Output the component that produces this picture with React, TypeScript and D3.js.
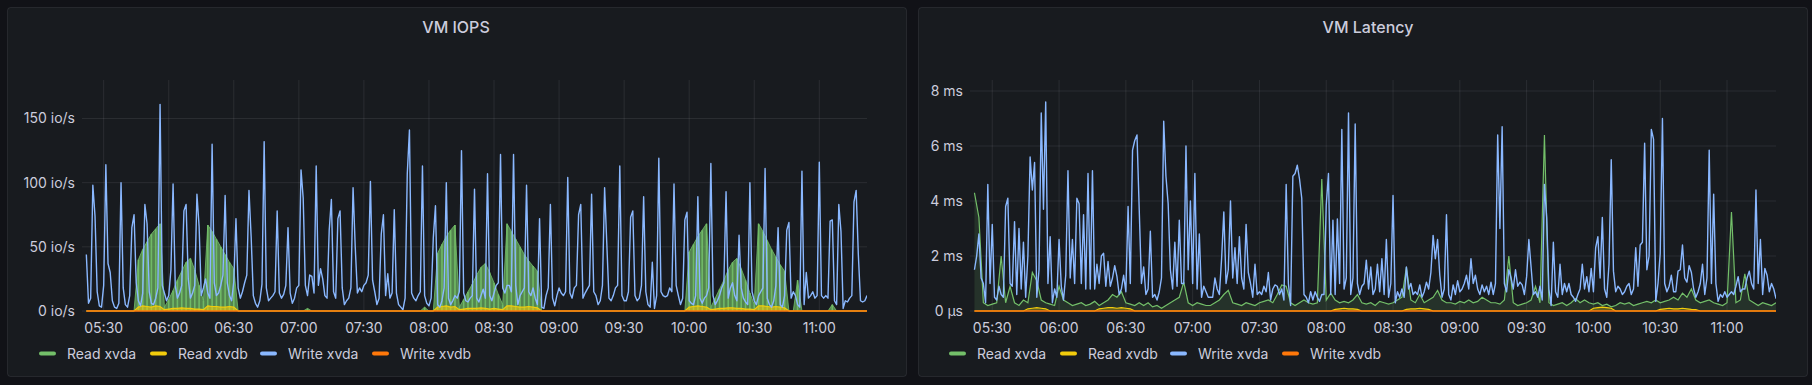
import React from 'react';
import * as d3 from 'd3';

// Two Grafana panels, 6h window. Samples start 05:22, axis runs 05:20 -> 11:22.
const at = (h: number, m: number) => new Date(2024, 0, 15, h, m);
const FIRST_SAMPLE = at(5, 22);
const AXIS_START = at(5, 20);
const AXIS_END = at(11, 22);

const legendNames = ['Read xvda', 'Read xvdb', 'Write xvda', 'Write xvdb'];
const seriesColors = ['#73BF69', '#F2CC0C', '#8AB8FF', '#FF780A'];

// ---- VM IOPS (io/s) ----
// Read xvda, one sample every 2 min
const iopsReadXvda = [
  0, 0, 0, 0, 0, 0, 0, 0, 0, 0, 0, 0, 40, 48, 54, 60, 64, 68, 3, 9,
  16, 24, 31, 38, 41, 32, 20, 8, 67, 62, 56, 50, 44, 38, 33, 0, 0, 0, 0, 0,
  0, 0, 0, 0, 0, 0, 0, 0, 0, 0, 0, 2, 0, 0, 0, 0, 0, 0, 0, 0,
  0, 0, 0, 0, 0, 0, 0, 0, 0, 0, 0, 0, 0, 0, 0, 0, 0, 0, 3, 0,
  0, 45, 52, 58, 63, 67, 3, 9, 15, 21, 28, 34, 37, 30, 22, 13, 5, 68, 62, 56,
  50, 44, 39, 35, 31, 0, 0, 0, 0, 0, 0, 0, 0, 0, 0, 0, 0, 0, 0, 0,
  0, 0, 0, 0, 0, 0, 0, 0, 0, 0, 0, 0, 0, 0, 0, 0, 0, 0, 0, 46,
  52, 58, 63, 68, 3, 10, 17, 24, 32, 38, 41, 33, 24, 14, 5, 68, 62, 55, 48, 42,
  36, 31, 0, 0, 24, 0, 0, 0, 0, 0, 0, 0, 5, 0, 0, 0, 0, 0, 0, 0, 0,
];
// Read xvdb, every 2 min
const iopsReadXvdb = [
  0, 0, 0, 0, 0, 0, 0, 0, 0, 0, 0, 0, 3, 4, 3.5, 3, 4, 3.5, 1, 1.5,
  2, 2, 2.5, 2, 2, 1.5, 1.5, 1, 4, 3.5, 3.5, 3, 3, 3.5, 3, 0, 0, 0, 0, 0,
  0, 0, 0, 0, 0, 0, 0, 0, 0, 0, 0, 0, 0, 0, 0, 0, 0, 0, 0, 0,
  0, 0, 0, 0, 0, 0, 0, 0, 0, 0, 0, 0, 0, 0, 0, 0, 0, 0, 0, 0,
  0, 3, 3.5, 4, 3, 3.5, 1, 1.5, 2, 2, 2, 2.5, 2, 1.5, 2, 1.5, 1, 4, 4, 3.5,
  3, 3, 3.5, 3, 2.5, 0, 0, 0, 0, 0, 0, 0, 0, 0, 0, 0, 0, 0, 0, 0,
  0, 0, 0, 0, 0, 0, 0, 0, 0, 0, 0, 0, 0, 0, 0, 0, 0, 0, 0, 3,
  3.5, 4, 3.5, 3, 1, 1.5, 2, 2, 2.5, 2.5, 2, 2, 1.5, 1.5, 1, 4, 4, 3.5, 3, 3.5,
  3, 2.5, 0, 0, 0, 0, 0, 0, 0, 0, 0, 0, 0, 0, 0, 0, 0, 0, 0, 0, 0,
];
// Write xvda, every minute
const iopsWriteXvda = [
  44, 6, 10, 98, 74, 15, 4, 3, 20, 114, 37, 30, 8, 3, 2, 6, 100, 18, 5, 3,
  12, 65, 75, 22, 8, 4, 14, 83, 68, 15, 6, 5, 10, 18, 161, 20, 14, 8, 12, 32,
  99, 20, 10, 14, 20, 78, 83, 25, 10, 14, 20, 91, 66, 12, 18, 25, 14, 10, 130, 22,
  12, 14, 20, 28, 90, 22, 12, 8, 23, 72, 18, 10, 15, 22, 28, 94, 58, 12, 6, 3,
  8, 21, 132, 18, 8, 10, 12, 15, 78, 14, 10, 13, 20, 65, 14, 6, 10, 18, 20, 110,
  88, 20, 12, 28, 27, 14, 113, 20, 33, 25, 12, 10, 63, 87, 15, 10, 72, 78, 18, 5,
  8, 10, 18, 96, 50, 14, 18, 15, 20, 22, 28, 101, 24, 15, 5, 10, 60, 75, 12, 29,
  10, 14, 79, 14, 5, 3, 1, 10, 107, 141, 14, 10, 8, 12, 15, 113, 12, 6, 4, 10,
  57, 82, 5, 3, 8, 18, 100, 10, 5, 8, 12, 10, 15, 125, 14, 8, 7, 10, 12, 95,
  10, 7, 12, 17, 10, 107, 12, 8, 14, 20, 22, 122, 18, 14, 20, 20, 15, 122, 20, 5,
  12, 15, 18, 98, 15, 12, 18, 10, 5, 72, 3, 2, 12, 18, 83, 10, 4, 12, 18, 14,
  12, 15, 104, 14, 10, 18, 20, 75, 83, 10, 14, 17, 20, 91, 15, 12, 5, 8, 20, 96,
  53, 10, 8, 12, 18, 20, 113, 12, 8, 8, 15, 73, 78, 12, 8, 10, 20, 89, 15, 5,
  3, 38, 2, 12, 119, 15, 12, 11, 12, 18, 15, 99, 20, 12, 5, 10, 71, 77, 8, 6,
  5, 12, 89, 10, 6, 10, 12, 18, 115, 12, 5, 8, 12, 18, 22, 93, 10, 18, 22, 12,
  8, 59, 18, 10, 7, 5, 100, 15, 8, 5, 12, 15, 18, 111, 10, 5, 3, 8, 20, 65,
  5, 3, 12, 63, 69, 10, 15, 12, 5, 3, 109, 5, 30, 10, 12, 15, 10, 12, 116, 12,
  10, 12, 10, 70, 71, 8, 5, 83, 62, 2, 8, 7, 10, 12, 85, 94, 44, 8, 7, 8, 12,
];
// Write xvdb, flat zero (hourly)
const iopsWriteXvdb = [0, 0, 0, 0, 0, 0, 0];
const iopsTicks = [0, 50, 100, 150];

// ---- VM Latency (ms) ----
// Read xvda, every 2 min
const latReadXvda = [
  4.3, 3.4, 0.3, 0.2, 0.25, 0.3, 2.0, 0.3, 0.9, 0.3, 0.2, 0.4, 0.3, 1.4, 1.1, 0.4, 0.3, 0.25, 0.2, 0.9,
  0.4, 0.3, 0.2, 0.25, 0.3, 0.2, 0.25, 0.35, 0.2, 0.3, 0.4, 0.6, 0.5, 0.7, 0.3, 0.25, 0.2, 0.3, 0.2, 0.3,
  0.15, 0.2, 0.1, 0.2, 0.3, 0.4, 0.5, 1.05, 0.3, 0.2, 0.3, 0.25, 0.2, 0.2, 0.3, 0.4, 0.6, 0.75, 0.3, 0.25,
  0.2, 0.3, 0.25, 0.2, 0.3, 0.35, 0.4, 0.3, 0.6, 0.95, 0.9, 0.3, 0.2, 0.3, 0.4, 0.3, 0.25, 0.3, 4.8, 0.4,
  0.65, 0.4, 0.3, 0.35, 0.3, 0.4, 0.6, 0.3, 0.25, 0.3, 0.2, 0.35, 0.3, 0.25, 0.3, 0.4, 0.5, 1.6, 0.4, 0.3,
  0.6, 0.3, 0.4, 0.5, 0.75, 0.4, 0.3, 0.3, 0.25, 0.35, 0.3, 0.4, 0.3, 0.35, 0.5, 0.4, 0.3, 0.3, 0.25, 0.4,
  2.0, 0.3, 0.2, 0.25, 0.3, 0.4, 0.9, 0.3, 6.4, 0.3, 0.2, 0.25, 0.3, 0.2, 0.3, 0.45, 0.3, 0.4, 0.3, 0.25,
  0.3, 0.2, 0.25, 0.15, 0.2, 0.3, 0.25, 0.3, 0.2, 0.25, 0.3, 0.35, 0.3, 0.4, 0.3, 0.35, 0.4, 0.5, 0.4, 0.65,
  0.5, 0.8, 0.4, 0.3, 0.35, 0.4, 0.3, 0.25, 0.2, 0.3, 3.6, 0.3, 0.4, 1.35, 0.4, 0.3, 0.2, 0.3, 0.25, 0.2, 0.3,
];
// Read xvdb, every 2 min
const latReadXvdb = [
  0, 0, 0, 0, 0, 0, 0, 0, 0, 0, 0, 0, 0.08, 0.1, 0.12, 0.1, 0.08, 0, 0, 0,
  0, 0, 0, 0, 0, 0, 0, 0, 0.08, 0.1, 0.12, 0.12, 0.1, 0.12, 0.1, 0.08, 0, 0, 0, 0,
  0, 0, 0, 0, 0, 0, 0, 0, 0, 0, 0, 0, 0, 0, 0, 0, 0, 0, 0, 0,
  0, 0, 0, 0, 0, 0, 0, 0, 0, 0, 0, 0, 0, 0, 0, 0, 0, 0, 0, 0,
  0, 0.06, 0.08, 0.1, 0.08, 0.08, 0.06, 0, 0, 0, 0, 0, 0, 0, 0, 0, 0, 0.06, 0.08, 0.08,
  0.1, 0.08, 0.06, 0, 0, 0, 0, 0, 0, 0, 0, 0, 0, 0, 0, 0, 0, 0, 0, 0,
  0, 0, 0, 0, 0, 0, 0, 0, 0, 0, 0, 0, 0, 0, 0, 0, 0, 0, 0, 0.1,
  0.12, 0.14, 0.12, 0.1, 0, 0, 0, 0, 0, 0, 0, 0, 0, 0, 0.06, 0.08, 0.1, 0.08, 0.08, 0.1,
  0.08, 0.06, 0.05, 0, 0, 0, 0, 0, 0, 0, 0, 0, 0, 0, 0, 0, 0, 0, 0, 0, 0,
];
// Write xvda, every minute
const latWriteXvda = [
  1.5, 2.0, 2.8, 1.2, 1.0, 0.3, 4.6, 1.0, 3.15, 0.5, 0.4, 0.9, 0.6, 0.5, 3.8, 4.1, 1.0, 0.9, 3.25, 0.6,
  3.0, 0.8, 2.5, 0.5, 2.0, 5.6, 4.4, 5.4, 0.5, 1.5, 7.2, 3.7, 7.6, 1.0, 2.7, 0.3, 0.8, 0.5, 2.6, 0.9,
  0.4, 1.3, 5.1, 1.2, 2.6, 1.0, 4.1, 3.9, 1.0, 3.5, 0.8, 5.0, 0.8, 5.1, 0.8, 1.7, 1.0, 2.0, 2.1, 0.9,
  1.8, 0.9, 1.2, 1.65, 1.25, 0.6, 0.8, 1.3, 0.7, 3.8, 1.0, 5.85, 6.2, 6.4, 3.7, 1.0, 1.6, 0.6, 0.8, 2.9,
  0.5, 0.6, 0.4, 0.7, 1.2, 6.9, 4.9, 3.9, 1.5, 0.8, 2.5, 0.9, 3.3, 1.0, 1.0, 6.0, 1.5, 4.0, 1.0, 5.0,
  0.8, 2.8, 0.5, 0.9, 0.7, 0.5, 0.5, 0.5, 1.2, 0.8, 0.6, 1.9, 3.6, 1.0, 1.5, 4.0, 1.2, 2.3, 1.0, 2.7,
  1.2, 0.8, 3.15, 1.4, 1.0, 0.5, 1.7, 0.6, 0.7, 0.6, 0.9, 0.7, 1.4, 0.4, 0.8, 0.95, 0.9, 0.6, 0.8, 0.4,
  4.6, 1.0, 0.2, 4.9, 5.0, 5.3, 4.8, 4.1, 0.6, 0.5, 0.3, 0.7, 0.4, 0.7, 0.5, 0.35, 0.6, 0.6, 3.85, 5.0,
  0.6, 3.3, 0.6, 3.35, 1.0, 6.6, 0.8, 1.2, 7.2, 0.6, 1.2, 6.8, 1.0, 0.6, 0.9, 1.0, 1.85, 0.8, 1.6, 0.6,
  0.8, 1.7, 0.7, 1.9, 0.6, 2.6, 0.5, 1.0, 4.2, 0.3, 0.7, 0.5, 0.8, 0.5, 1.6, 0.8, 1.0, 0.6, 0.7, 0.6,
  0.95, 0.5, 0.7, 1.05, 0.8, 1.4, 2.75, 1.9, 2.6, 1.3, 0.5, 0.8, 3.5, 0.6, 0.4, 0.95, 0.6, 1.1, 0.7, 0.8,
  1.0, 1.3, 0.8, 1.9, 1.0, 1.3, 0.8, 0.6, 0.95, 0.7, 0.9, 0.6, 1.05, 0.6, 1.0, 6.4, 3.0, 6.7, 1.0, 0.7,
  1.5, 1.2, 0.8, 1.5, 0.9, 1.05, 0.95, 0.6, 1.25, 2.6, 1.6, 0.6, 0.7, 0.5, 0.9, 0.4, 4.6, 3.4, 0.8, 0.2,
  2.5, 0.7, 0.5, 1.7, 0.6, 1.0, 0.7, 1.0, 0.6, 0.5, 0.35, 0.6, 0.8, 1.7, 0.8, 1.25, 0.7, 1.55, 0.7, 2.3,
  2.7, 1.2, 3.4, 0.8, 0.5, 1.7, 5.5, 1.45, 0.7, 0.9, 0.8, 0.6, 0.7, 0.9, 1.0, 0.6, 0.8, 2.3, 0.9, 2.4,
  2.5, 6.1, 1.5, 2.0, 6.6, 6.25, 0.35, 1.0, 2.1, 7.0, 1.0, 0.7, 0.9, 1.3, 0.7, 0.7, 1.45, 1.5, 2.4, 1.2,
  1.05, 1.65, 1.4, 0.8, 0.5, 0.7, 1.0, 1.7, 0.6, 1.2, 5.85, 1.0, 4.25, 1.0, 0.35, 0.6, 0.5, 0.7, 0.5, 0.6,
  0.7, 0.6, 0.9, 1.25, 0.7, 0.8, 0.8, 1.2, 1.45, 1.0, 0.8, 4.4, 1.0, 2.6, 0.6, 1.55, 1.3, 0.7, 1.0, 0.8, 0.45,
];
// Write xvdb, flat zero (hourly)
const latWriteXvdb = [0, 0, 0, 0, 0, 0, 0];
const latTicks = [0, 2, 4, 6, 8];

type Pt = { t: Date; v: number };
type Kind = 'stripes' | 'area' | 'line';
type Series = { values: number[]; step: number; kind: Kind; fill?: number };

const toPoints = (values: number[], step: number): Pt[] =>
  values.map((v, k) => ({ t: d3.timeMinute.offset(FIRST_SAMPLE, k * step), v }));

const TEXT = '#ccccdc';
const GRID = 'rgba(204,204,220,0.1)';
const FONT = 'Inter, Roboto, "Noto Sans", sans-serif';
const legendOffsets = [0, 111, 221, 333];

type PanelProps = {
  id: string;
  box: { x: number; y: number; w: number; h: number };
  plot: { left: number; right: number; top: number; bottom: number };
  title: string;
  titleX: number;
  legendX: number;
  yMax: number;
  ticks: number[];
  fmt: (v: number) => string;
  series: Series[];
};

function Panel(p: PanelProps) {
  const x = d3.scaleTime().domain([AXIS_START, AXIS_END]).range([p.plot.left, p.plot.right]);
  const y = d3.scaleLinear().domain([0, p.yMax]).range([p.plot.bottom, p.plot.top]);
  const xTicks = x.ticks(d3.timeMinute.every(30) as d3.TimeInterval);
  const fmtTime = d3.timeFormat('%H:%M');
  const line = d3.line<Pt>().x(d => x(d.t)).y(d => y(d.v));
  const area = d3.area<Pt>().x(d => x(d.t)).y0(y(0)).y1(d => y(d.v));

  return (
    <g>
      <rect x={p.box.x + 0.5} y={p.box.y + 0.5} width={p.box.w} height={p.box.h} rx={3}
        fill="#181b1f" stroke="rgba(204,204,220,0.1)" />
      <text x={p.titleX} y={33} textAnchor="middle" fill={TEXT} fontSize={16} fontWeight={500}>{p.title}</text>

      <defs>
        <clipPath id={`clip-${p.id}`}>
          <rect x={p.plot.left} y={p.plot.top - 2} width={p.plot.right - p.plot.left} height={p.plot.bottom - p.plot.top + 4} />
        </clipPath>
      </defs>

      {/* grid */}
      {xTicks.map(t => (
        <line key={+t} x1={x(t)} x2={x(t)} y1={p.plot.top} y2={p.plot.bottom} stroke={GRID} />
      ))}
      {p.ticks.map(v => (
        <line key={v} x1={p.plot.left} x2={p.plot.right} y1={y(v)} y2={y(v)} stroke={GRID} />
      ))}

      <g clipPath={`url(#clip-${p.id})`}>
        {p.series.map((s, si) => {
          const pts = toPoints(s.values, s.step);
          const color = seriesColors[si];
          if (s.kind === 'stripes') {
            return (
              <g key={si}>
                <path d={area(pts) || ''} fill={color} fillOpacity={s.fill ?? 0.6} />
                {pts.filter(d => d.v > 0).map((d, k) => (
                  <line key={k} x1={x(d.t)} x2={x(d.t)} y1={y(0)} y2={y(d.v)} stroke={color} strokeWidth={1.6} strokeOpacity={0.9} />
                ))}
                <path d={line(pts) || ''} fill="none" stroke={color} strokeWidth={1} strokeOpacity={0.8} />
              </g>
            );
          }
          if (s.kind === 'area') {
            return (
              <g key={si}>
                <path d={area(pts) || ''} fill={color} fillOpacity={s.fill ?? 0.45} />
                <path d={line(pts) || ''} fill="none" stroke={color} strokeWidth={1.2} />
              </g>
            );
          }
          return (
            <path key={si} d={line(pts) || ''} fill="none" stroke={color}
              strokeWidth={si === 3 ? 1.6 : 1.4} strokeLinejoin="round" />
          );
        })}
      </g>

      {/* axes labels */}
      {p.ticks.map(v => (
        <text key={v} x={p.plot.left - 7} y={y(v)} dy="0.35em" textAnchor="end" fill={TEXT} fontSize={14}>
          {p.fmt(v)}
        </text>
      ))}
      {xTicks.map(t => (
        <text key={+t} x={x(t)} y={333} textAnchor="middle" fill={TEXT} fontSize={14}>{fmtTime(t)}</text>
      ))}

      {/* legend */}
      {legendNames.map((name, i) => (
        <g key={name} transform={`translate(${p.legendX + legendOffsets[i]},0)`}>
          <rect x={0} y={351.5} width={17} height={4} rx={2} fill={seriesColors[i]} />
          <text x={28} y={358.5} fill={TEXT} fontSize={14}>{name}</text>
        </g>
      ))}
    </g>
  );
}

export default function App() {
  const iopsSeries: Series[] = [
    { values: iopsReadXvda, step: 2, kind: 'stripes', fill: 0.65 },
    { values: iopsReadXvdb, step: 2, kind: 'area', fill: 0.6 },
    { values: iopsWriteXvda, step: 1, kind: 'line' },
    { values: iopsWriteXvdb, step: 60, kind: 'line' },
  ];
  const latSeries: Series[] = [
    { values: latReadXvda, step: 2, kind: 'area', fill: 0.15 },
    { values: latReadXvdb, step: 2, kind: 'area', fill: 0.3 },
    { values: latWriteXvda, step: 1, kind: 'line' },
    { values: latWriteXvdb, step: 60, kind: 'line' },
  ];

  return (
    <svg width={1812} height={385} fontFamily={FONT}
      style={{ position: 'absolute', left: 0, top: 0, display: 'block' }}>
      <rect width={1812} height={385} fill="#111217" />
      <Panel id="iops" box={{ x: 7, y: 7, w: 899, h: 369 }}
        plot={{ left: 82, right: 867, top: 80, bottom: 311 }}
        title="VM IOPS" titleX={456} legendX={39}
        yMax={180} ticks={iopsTicks} fmt={v => `${v} io/s`} series={iopsSeries} />
      <Panel id="lat" box={{ x: 918, y: 7, w: 889, h: 369 }}
        plot={{ left: 970, right: 1776, top: 80, bottom: 311 }}
        title="VM Latency" titleX={1368} legendX={949}
        yMax={8.4} ticks={latTicks} fmt={v => (v === 0 ? '0 µs' : `${v} ms`)} series={latSeries} />
    </svg>
  );
}
